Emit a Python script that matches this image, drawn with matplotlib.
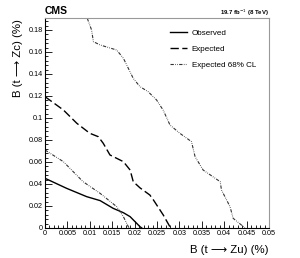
import matplotlib
matplotlib.use("Agg")
import matplotlib.pyplot as plt
from matplotlib.ticker import MultipleLocator, FixedLocator

plt.rcParams['font.family'] = ['Liberation Sans', 'DejaVu Sans']

# Observed limit
obs_x = [0.0, 0.0048, 0.0093, 0.0123, 0.0152, 0.0175, 0.019, 0.0212, 0.0216]
obs_y = [0.0452, 0.0361, 0.0285, 0.0249, 0.0179, 0.0139, 0.0103, 0.0012, 0.0]

# Expected limit
exp_x = [0.0, 0.0041, 0.0071, 0.0100, 0.0119, 0.0130, 0.0145, 0.0175, 0.0190,
         0.0197, 0.0212, 0.0234, 0.0242, 0.0264, 0.0279, 0.0281]
exp_y = [0.1194, 0.1073, 0.0952, 0.0861, 0.0830, 0.0770, 0.0664, 0.0603, 0.0527,
         0.0421, 0.0365, 0.0300, 0.0255, 0.0118, 0.0010, 0.0]

# Expected 68% CL lower band edge
lo_x = [0.0, 0.0041, 0.0085, 0.0123, 0.0160, 0.0175, 0.0186, 0.0188]
lo_y = [0.0709, 0.0603, 0.0421, 0.0315, 0.0194, 0.0103, 0.0012, 0.0]

# Expected 68% CL upper band edge
hi_x = [0.00944, 0.0104, 0.0108, 0.0123, 0.0160, 0.0175, 0.0197, 0.0212, 0.0230,
        0.0249, 0.0264, 0.0279, 0.0301, 0.0327, 0.0335, 0.0353, 0.0391, 0.0394,
        0.0413, 0.0420, 0.0443, 0.0446]
hi_y = [0.1906, 0.1800, 0.1694, 0.1664, 0.1618, 0.1543, 0.1360, 0.1285, 0.1240,
        0.1164, 0.1070, 0.0936, 0.0861, 0.0785, 0.0648, 0.0527, 0.0421, 0.0345,
        0.0194, 0.0088, 0.0012, 0.0]

x_ticks = [0, 0.005, 0.01, 0.015, 0.02, 0.025, 0.03, 0.035, 0.04, 0.045, 0.05]
x_labels = ['0', '0.005', '0.01', '0.015', '0.02', '0.025', '0.03', '0.035', '0.04', '0.045', '0.05']
y_ticks = [0, 0.02, 0.04, 0.06, 0.08, 0.1, 0.12, 0.14, 0.16, 0.18]
y_labels = ['0', '0.02', '0.04', '0.06', '0.08', '0.1', '0.12', '0.14', '0.16', '0.18']

W, H = 300, 258
fig = plt.figure(figsize=(W / 100, H / 100), dpi=100)
L, R, B, T = 45, 269, 228, 18
ax = fig.add_axes([L / W, 1 - B / H, (R - L) / W, (B - T) / H])
ax.set_xlim(0, 0.05)
ax.set_ylim(0, 0.18 + 12 / 1100)

ax.plot(obs_x, obs_y, color='black', lw=1.0, label='Observed')
ax.plot(exp_x, exp_y, color='black', lw=1.0, dashes=(6, 2.5), label='Expected')
ax.plot(lo_x, lo_y, color='#333333', lw=0.8, dashes=(3, 1.2, 0.6, 1.2, 0.6, 1.2),
        label='Expected 68% CL')
ax.plot(hi_x, hi_y, color='#333333', lw=0.8, dashes=(3, 1.2, 0.6, 1.2, 0.6, 1.2))

ax.xaxis.set_major_locator(FixedLocator(x_ticks))
ax.set_xticklabels(x_labels)
ax.yaxis.set_major_locator(FixedLocator(y_ticks))
ax.set_yticklabels(y_labels)
ax.xaxis.set_minor_locator(MultipleLocator(0.001))
ax.yaxis.set_minor_locator(MultipleLocator(0.004))
ax.tick_params(which='both', direction='in', top=False, right=False, labelsize=5.2,
               pad=1.5, width=0.6, color='black')
ax.tick_params(which='major', length=5)
ax.tick_params(which='minor', length=2.5)
for s in ['top', 'right']:
    ax.spines[s].set_color('#999999')
for s in ['left', 'bottom']:
    ax.spines[s].set_color('black')
for s in ax.spines.values():
    s.set_linewidth(0.8)

leg = ax.legend(loc='upper left', bbox_to_anchor=(170 / W, 1 - 29 / H),
                bbox_transform=fig.transFigure, frameon=False, borderpad=0,
                borderaxespad=0, fontsize=5.8, handlelength=2.1, handletextpad=0.6,
                labelspacing=1.05)

fig.text(L / W, 1 - 11 / H, 'CMS', fontsize=7.5, fontweight='bold', ha='left', va='center')
fig.text(R / W, 1 - 13 / H, '19.7 fb$^{-1}$ (8 TeV)', fontsize=4.3, fontweight='bold',
         ha='right', va='center')
fig.text(18 / W, 1 - 19 / H, 'B (t \u27f6 Zc) (%)', fontsize=8.2, rotation=90,
         ha='center', va='top')
fig.text(269 / W, 1 - 250 / H, 'B (t \u27f6 Zu) (%)', fontsize=8.2, ha='right',
         va='center')

fig.savefig('out.png', dpi=100)
